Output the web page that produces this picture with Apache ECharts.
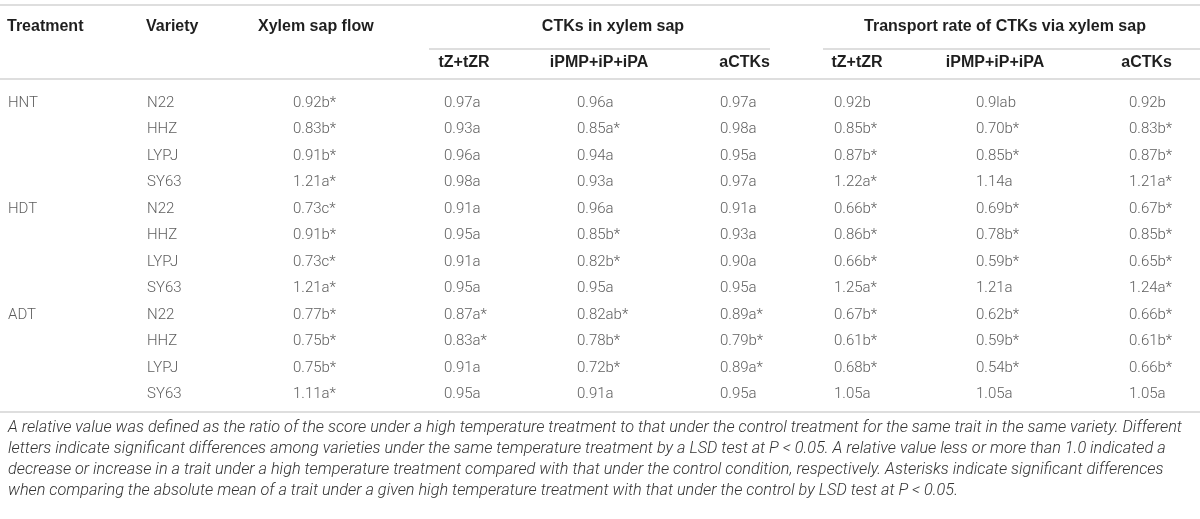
<!DOCTYPE html>
<html>
<head>
<meta charset="utf-8">
<script src="https://cdn.jsdelivr.net/npm/echarts@6/dist/echarts.min.js"></script>
<style>
  html, body { margin: 0; padding: 0; background: #fff; }
  #chart { width: 1200px; height: 519px; }
</style>
</head>
<body>
<div id="chart"></div>
<script>
// table values
var treatments = ['HNT', 'HDT', 'ADT'];
var varieties = ['N22', 'HHZ', 'LYPJ', 'SY63'];
var xylemFlow = ['0.92b*', '0.83b*', '0.91b*', '1.21a*', '0.73c*', '0.91b*', '0.73c*', '1.21a*', '0.77b*', '0.75b*', '0.75b*', '1.11a*'];
var ctkTZ = ['0.97a', '0.93a', '0.96a', '0.98a', '0.91a', '0.95a', '0.91a', '0.95a', '0.87a*', '0.83a*', '0.91a', '0.95a'];
var ctkIP = ['0.96a', '0.85a*', '0.94a', '0.93a', '0.96a', '0.85b*', '0.82b*', '0.95a', '0.82ab*', '0.78b*', '0.72b*', '0.91a'];
var ctkA = ['0.97a', '0.98a', '0.95a', '0.97a', '0.91a', '0.93a', '0.90a', '0.95a', '0.89a*', '0.79b*', '0.89a*', '0.95a'];
var rateTZ = ['0.92b', '0.85b*', '0.87b*', '1.22a*', '0.66b*', '0.86b*', '0.66b*', '1.25a*', '0.67b*', '0.61b*', '0.68b*', '1.05a'];
var rateIP = ['0.9lab', '0.70b*', '0.85b*', '1.14a', '0.69b*', '0.78b*', '0.59b*', '1.21a', '0.62b*', '0.59b*', '0.54b*', '1.05a'];
var rateA = ['0.92b', '0.83b*', '0.87b*', '1.21a*', '0.67b*', '0.85b*', '0.65b*', '1.24a*', '0.66b*', '0.61b*', '0.66b*', '1.05a'];

var headTop = ['Treatment', 'Variety', 'Xylem sap flow'];
var groupHeads = ['CTKs in xylem sap', 'Transport rate of CTKs via xylem sap'];
var subHeads = ['tZ+tZR', 'iPMP+iP+iPA', 'aCTKs'];

var footnote = [
    'A relative value was defined as the ratio of the score under a high temperature treatment to that under the control treatment for the same trait in the same variety. Different',
    'letters indicate significant differences among varieties under the same temperature treatment by a LSD test at P < 0.05. A relative value less or more than 1.0 indicated a',
    'decrease or increase in a trait under a high temperature treatment compared with that under the control condition, respectively. Asterisks indicate significant differences',
    'when comparing the absolute mean of a trait under a given high temperature treatment with that under the control by LSD test at P < 0.05.'
];

// layout
var BODY_FONT = "Roboto, 'Liberation Sans', sans-serif";
var HEAD_FONT = "'Liberation Sans', Arial, sans-serif";
var BODY_COLOR = '#333333';
var HEAD_COLOR = '#1f1f1f';
var RULE_COLOR = '#dedede';
var colX = [7, 146, 292, 443, 576, 719, 833, 975, 1128];
var rowTop = 89.75, rowH = 26.5;

var rowIds = [];
var treatCol = [];
var varietyCol = [];
for (var t = 0; t < treatments.length; t++) {
    for (var v = 0; v < varieties.length; v++) {
        rowIds.push(String(rowIds.length));
        treatCol.push(v === 0 ? treatments[t] : '');
        varietyCol.push(varieties[v]);
    }
}
var columns = [treatCol, varietyCol, xylemFlow, ctkTZ, ctkIP, ctkA, rateTZ, rateIP, rateA];

function textColumn(values, x) {
    return {
        type: 'scatter',
        silent: true,
        symbolSize: 2,
        itemStyle: { color: 'rgba(0,0,0,0)' },
        data: values.map(function (s, i) { return { name: s, value: [x, i] }; }),
        label: {
            show: true,
            position: 'right',
            distance: 0,
            color: BODY_COLOR,
            fontFamily: BODY_FONT,
            fontWeight: 300,
            fontSize: 15,
            formatter: '{b}'
        }
    };
}

function headText(s, x, y, align) {
    return {
        type: 'text',
        silent: true,
        style: {
            text: s, x: x, y: y,
            textAlign: align || 'left',
            textVerticalAlign: 'middle',
            fill: HEAD_COLOR,
            font: 'bold 16px ' + HEAD_FONT
        }
    };
}

function rule(x1, x2, y) {
    return {
        type: 'line',
        silent: true,
        shape: { x1: x1, y1: y, x2: x2, y2: y },
        style: { stroke: RULE_COLOR, lineWidth: 2 }
    };
}

var graphics = [
    rule(0, 1200, 5),
    rule(429, 770, 49),
    rule(823, 1200, 49),
    rule(0, 1200, 79),
    rule(0, 1200, 412),
    headText(headTop[0], 7, 27),
    headText(headTop[1], 146, 27),
    headText(headTop[2], 258, 27),
    headText(groupHeads[0], 613, 27, 'center'),
    headText(groupHeads[1], 1005, 27, 'center'),
    headText(subHeads[0], 464, 63, 'center'),
    headText(subHeads[1], 599, 63, 'center'),
    headText(subHeads[2], 770, 63, 'right'),
    headText(subHeads[0], 857, 63, 'center'),
    headText(subHeads[1], 995, 63, 'center'),
    headText(subHeads[2], 1172, 63, 'right')
];
footnote.forEach(function (line, i) {
    graphics.push({
        type: 'text',
        silent: true,
        style: {
            text: line, x: 8, y: 428 + i * 21,
            textVerticalAlign: 'middle',
            fill: BODY_COLOR,
            font: 'italic 300 16.3px ' + BODY_FONT
        }
    });
});

var chart = echarts.init(document.getElementById('chart'), null, { renderer: 'canvas' });
chart.setOption({
    animation: false,
    tooltip: { show: false },
    grid: { left: 0, right: 0, top: rowTop, height: rowH * rowIds.length },
    xAxis: { type: 'value', min: 0, max: 1200, show: false },
    yAxis: { type: 'category', data: rowIds, inverse: true, show: false },
    series: columns.map(function (col, i) { return textColumn(col, colX[i]); }),
    graphic: graphics
});
</script>
</body>
</html>
